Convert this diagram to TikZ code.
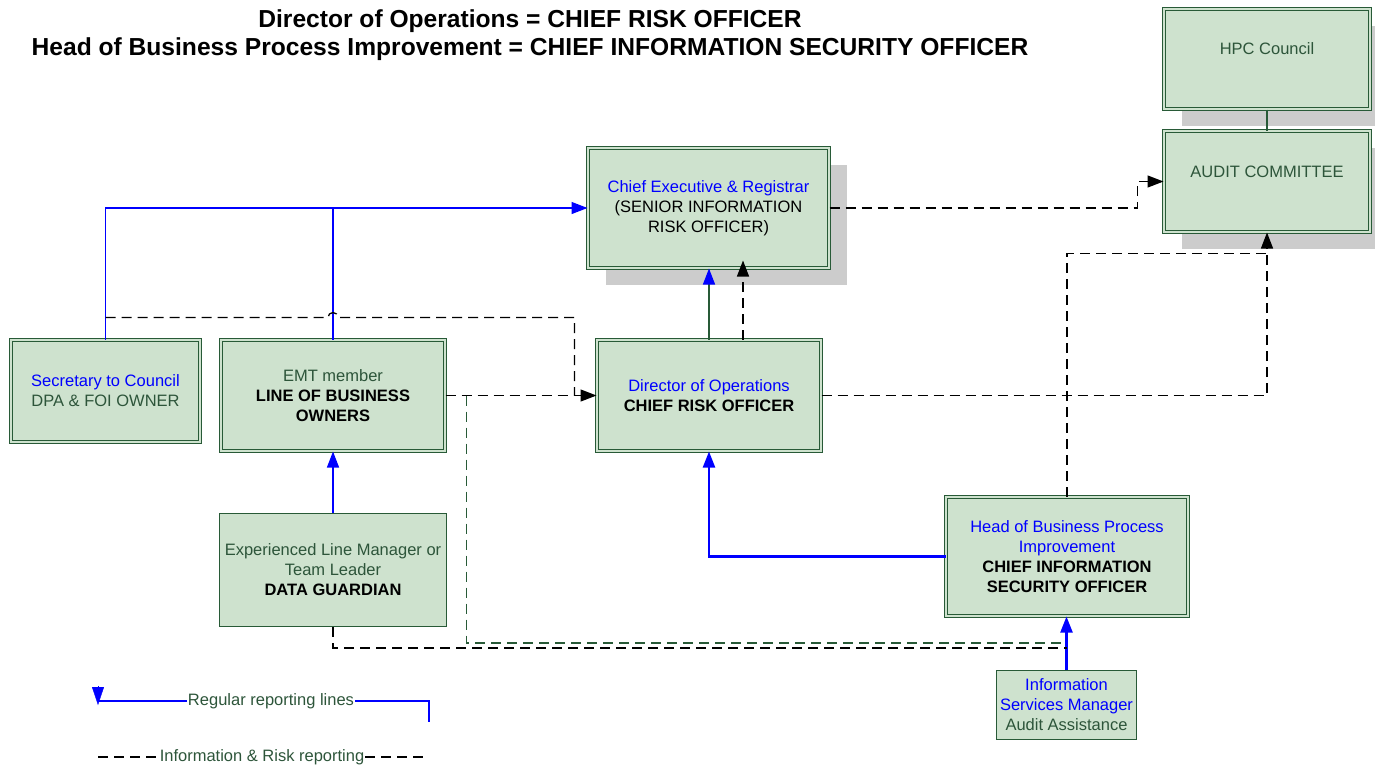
\documentclass[tikz,border=0pt]{standalone}
\usepackage{xcolor}
\usepackage{fontspec}
\setmainfont{Liberation Sans}
\usepackage{tikz}
\usetikzlibrary{arrows.meta, positioning, calc, shadows}

\definecolor{boxgreen}{RGB}{206,226,206}
\definecolor{edgegreen}{RGB}{40,90,55}
\definecolor{txtgreen}{RGB}{45,85,58}
\definecolor{shadowgrey}{RGB}{204,204,204}

\begin{document}
\begin{tikzpicture}[
            x=1pt, y=-1pt,
            font=\fontsize{16.5}{20}\selectfont,
            board/.style={rectangle, draw=edgegreen, fill=boxgreen, double=boxgreen, double distance=1.6pt, line width=1pt, align=center, text=txtgreen, inner sep=2pt},
            plainbox/.style={rectangle, draw=edgegreen, fill=boxgreen, line width=1.3pt, align=center, text=txtgreen, inner sep=2pt},
            shade/.style={drop shadow={shadow xshift=18pt, shadow yshift=-17pt, fill=shadowgrey, opacity=1}},
            regular/.style={blue, line width=1.3pt, -{Triangle[length=16pt, width=12pt]}},
            riskline/.style={black, line width=1.3pt, dash pattern=on 10pt off 6pt, -{Triangle[length=16pt, width=12pt]}}
        ]
            \useasboundingbox (0,0) rectangle (1375,766);

            % Title
            \node[font=\fontsize{24.6}{28}\selectfont\bfseries, align=center] (title) at (530,35)
                {Director of Operations = CHIEF RISK OFFICER\\Head of Business Process Improvement = CHIEF INFORMATION SECURITY OFFICER};

            % Nodes
            \node[board, shade, minimum width=206pt, minimum height=100pt, text depth=20pt] (hpc) at (1267,59) {HPC Council};
            \node[board, shade, minimum width=206pt, minimum height=101pt, text depth=20pt] (audit) at (1267,181.5) {AUDIT COMMITTEE};
            \node[board, shade, minimum width=241pt, minimum height=120pt] (ceo) at (708.5,208)
                {\textcolor{blue}{Chief Executive \& Registrar}\\\textcolor{black}{(SENIOR INFORMATION}\\\textcolor{black}{RISK OFFICER)}};
            \node[board, minimum width=189pt, minimum height=102pt] (sec) at (105.5,391)
                {\textcolor{blue}{Secretary to Council}\\DPA \& FOI OWNER};
            \node[board, minimum width=224pt, minimum height=111pt] (emt) at (333,395.5)
                {EMT member\\\textcolor{black}{\textbf{LINE OF BUSINESS}}\\\textcolor{black}{\textbf{OWNERS}}};
            \node[board, minimum width=224pt, minimum height=111pt] (cro) at (709,395.5)
                {\textcolor{blue}{Director of Operations}\\\textcolor{black}{\textbf{CHIEF RISK OFFICER}}};
            \node[plainbox, minimum width=227pt, minimum height=113pt] (guardian) at (333,570)
                {Experienced Line Manager or\\Team Leader\\\textcolor{black}{\textbf{DATA GUARDIAN}}};
            \node[board, minimum width=242pt, minimum height=119pt] (ciso) at (1067,556.5)
                {\textcolor{blue}{Head of Business Process}\\\textcolor{blue}{Improvement}\\\textcolor{black}{\textbf{CHIEF INFORMATION}}\\\textcolor{black}{\textbf{SECURITY OFFICER}}};
            \node[plainbox, minimum width=140pt, minimum height=69pt] (ism) at (1066.5,705)
                {\textcolor{blue}{Information}\\\textcolor{blue}{Services Manager}\\Audit Assistance};

            % Junction points
            \coordinate (secup) at ($(sec.north)+(0,-22)$);
            \coordinate (emtfork) at ($(emt.east)+(21,0)$);
            \coordinate (auditjoin) at ($(audit.south)+(0,21)$);

            % Regular reporting lines
            \draw[edgegreen, line width=1.3pt] (hpc.south) -- (audit.north);
            \draw[regular] (sec.north) |- (ceo.west);
            \draw[blue, line width=1.3pt] (emt.north) -- (emt.north |- ceo.west);
            \draw[edgegreen, line width=1.3pt, -{Triangle[length=16pt, width=12pt, color=blue, fill=blue]}] (cro.north) -- (cro.north |- ceo.south);
            \draw[regular] (guardian.north) -- (emt.south);
            \draw[regular, line width=2.2pt] (ciso.west) -| (cro.south);
            \draw[regular, line width=2.2pt] (ism.north) -- (ism.north |- ciso.south);

            % Information & risk reporting
            \draw[riskline] (ceo.east) -- ++(308,0) |- (audit.west);
            \draw[riskline, shorten >=-8pt] ($(cro.north)+(34,0)$) -- ($(ceo.south)+(34.5,0)$);
            \draw[riskline] (cro.east) -| (audit.south);
            \draw[riskline, -] (ciso.north) |- (auditjoin);
            \draw[riskline] (emt.east) -- (cro.west);
            \draw[riskline, -] (secup) -- ++(222.5,0) arc[start angle=180, end angle=360, radius=5] -| ($(cro.west)+(-22,0)$);
            \draw[edgegreen, line width=1.3pt, dash pattern=on 10pt off 6pt] (emtfork) |- ($(ism.north)+(0,-27)$);
            \draw[riskline, -] (guardian.south) |- ($(ism.north)+(0,-22)$);

            % Legend
            \node[text=txtgreen, inner sep=1pt] (legreg) at (271,701) {Regular reporting lines};
            \coordinate (legregL) at (98,701);
            \coordinate (legregR) at (429,722);
            \draw[blue, line width=1.3pt] (legregL) -- (legreg.west) (legreg.east) -| (legregR);
            \draw[blue, -{Triangle[length=18pt, width=12pt]}] ($(legregL)+(0,-15)$) -- ($(legregL)+(0,4)$);

            \node[text=txtgreen, inner sep=1pt] (legrisk) at (262,757) {Information \& Risk reporting};
            \coordinate (legriskL) at (98,757);
            \coordinate (legriskR) at (429,757);
            \draw[black, line width=1.3pt, dash pattern=on 10pt off 6pt] (legriskL) -- (legrisk.west) (legrisk.east) -- (legriskR);

        \end{tikzpicture}
\end{document}
